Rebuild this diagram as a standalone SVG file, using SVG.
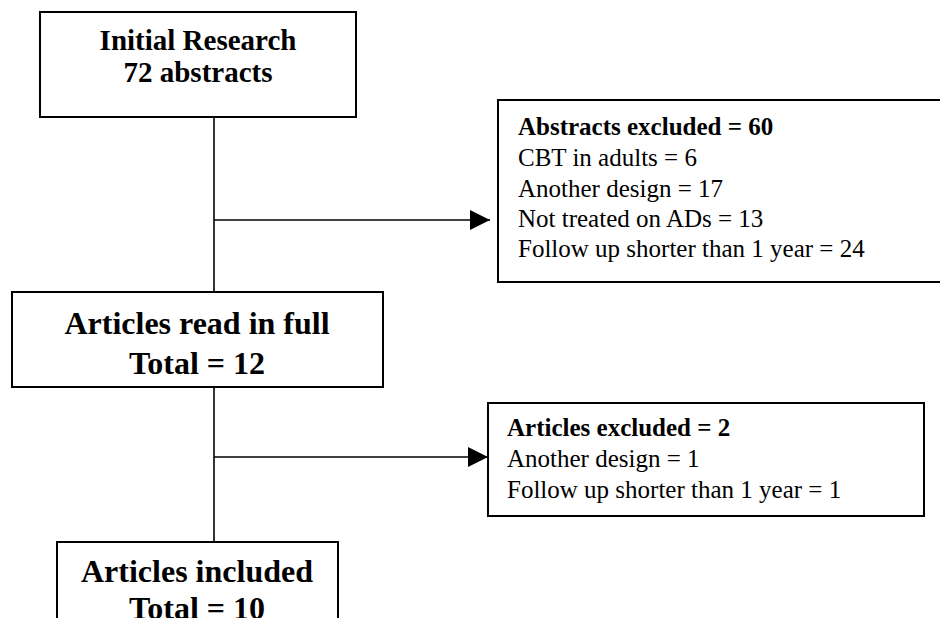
<svg xmlns="http://www.w3.org/2000/svg" width="940" height="618" viewBox="0 0 940 618">
<defs>
<style>
.box{fill:#fff;stroke:#000;stroke-width:2}
.ln{fill:none;stroke:#000;stroke-width:1.6}
.hb{font-family:"Liberation Serif","Times New Roman",serif;font-weight:bold;font-size:29px;text-anchor:middle;fill:#000}
.hb2{font-family:"Liberation Serif","Times New Roman",serif;font-weight:bold;font-size:32px;text-anchor:middle;fill:#000}
.t{font-family:"Liberation Serif","Times New Roman",serif;font-size:25px;fill:#000}
.tb{font-weight:bold}
</style>
<marker id="arr" markerWidth="20" markerHeight="20" refX="20" refY="10" orient="auto" markerUnits="userSpaceOnUse">
<path d="M0,0 L20,10 L0,20 Z" fill="#000"/>
</marker>
</defs>
<rect width="940" height="618" fill="#fff"/>
<g id="connectors">
<line class="ln" x1="214" y1="117" x2="214" y2="292"/>
<line class="ln" x1="214" y1="220" x2="490" y2="220" marker-end="url(#arr)"/>
<line class="ln" x1="214" y1="387" x2="214" y2="542"/>
<line class="ln" x1="214" y1="457" x2="488" y2="457" marker-end="url(#arr)"/>
</g>
<g id="initial">
<rect class="box" x="40" y="12" width="316" height="105"/>
<text class="hb" x="198" y="50">Initial Research</text>
<text class="hb" x="198" y="82">72 abstracts</text>
</g>
<g id="abstracts-excluded">
<rect class="box" x="498" y="100" width="460" height="182"/>
<text class="t" x="518" y="135"><tspan class="tb">Abstracts excluded = 60</tspan></text>
<text class="t" x="518" y="166">CBT in adults = 6</text>
<text class="t" x="518" y="197">Another design = 17</text>
<text class="t" x="518" y="227">Not treated on ADs = 13</text>
<text class="t" x="518" y="257">Follow up shorter than 1 year = 24</text>
</g>
<g id="articles-read">
<rect class="box" x="12" y="292" width="371" height="95"/>
<text class="hb2" x="197" y="334">Articles read in full</text>
<text class="hb2" x="197" y="374">Total = 12</text>
</g>
<g id="articles-excluded">
<rect class="box" x="488" y="403" width="436" height="113"/>
<text class="t" x="507" y="436"><tspan class="tb">Articles excluded = 2</tspan></text>
<text class="t" x="507" y="467">Another design = 1</text>
<text class="t" x="507" y="498">Follow up shorter than 1 year = 1</text>
</g>
<g id="articles-included">
<rect class="box" x="57" y="542" width="281" height="100"/>
<text class="hb2" x="197" y="582">Articles included</text>
<text class="hb2" x="197" y="619">Total = 10</text>
</g>
</svg>
